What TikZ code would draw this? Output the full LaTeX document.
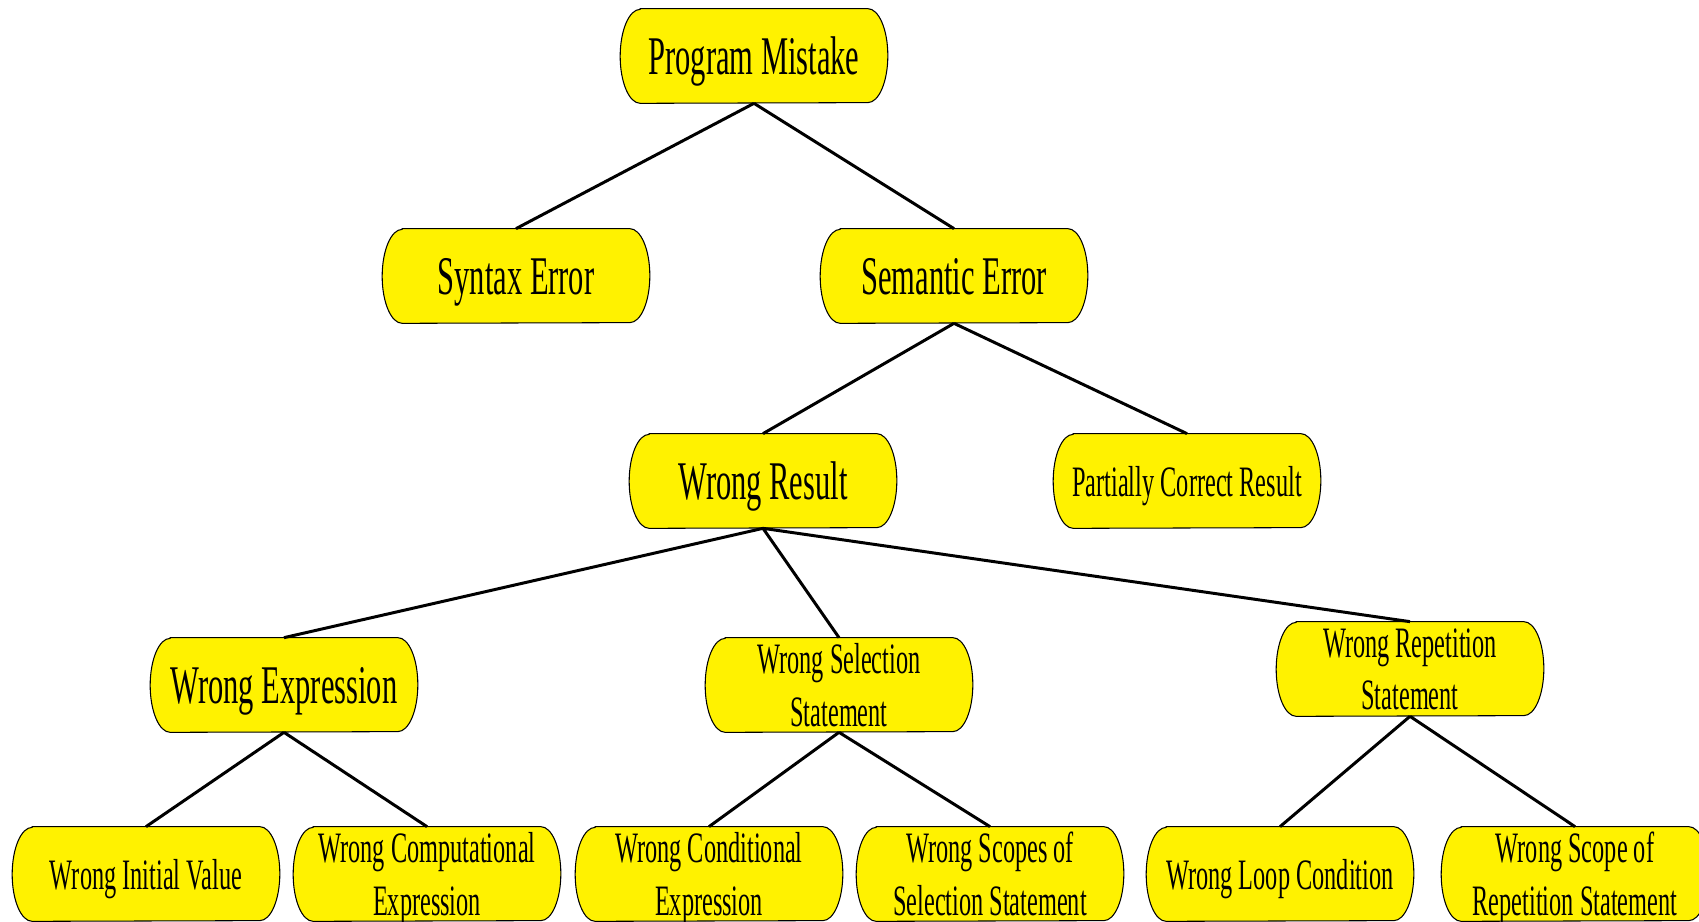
\documentclass[tikz,border=0pt]{standalone}
\usepackage{fontspec}
\newfontfamily\condfont[FakeStretch=0.56]{Liberation Serif}
\usepackage{tikz}
\usetikzlibrary{backgrounds,calc}

\begin{document}
\begin{tikzpicture}[x=0.02cm,y=0.02cm,
box/.style={rectangle,minimum width=5.34cm,minimum height=1.88cm,inner sep=0pt,text depth=0pt,align=center,font={\condfont\fontsize{24.7}{30}\selectfont}},
big/.style={font={\condfont\fontsize{31}{36}\selectfont}},
link/.style={line width=1.7pt}]
\useasboundingbox(0,0)rectangle(1699,922);
\node[box,big](pm)at(754,866){Program Mistake};
\node[box,big](syn)at(516,646){Syntax Error};
\node[box,big](sem)at(954,646){Semantic Error};
\node[box,big](wres)at(763,441){Wrong Result};
\node[box](pcr)at(1187,441){Partially Correct Result};
\node[box,big](wexp)at(284,237){Wrong Expression};
\node[box](wsel)at(839,237){Wrong Selection\\Statement};
\node[box](wrep)at(1410,253){Wrong Repetition\\Statement};
\node[box](wiv)at(146,48){Wrong Initial Value};
\node[box](wce)at(427,48){Wrong Computational\\Expression};
\node[box](wcond)at(709,48){Wrong Conditional\\Expression};
\node[box](wsco)at(990,48){Wrong Scopes of\\Selection Statement};
\node[box](wloop)at(1280,48){Wrong Loop Condition};
\node[box](wsrep)at(1575,48){Wrong Scope of\\Repetition Statement};
\draw[link](pm.south)--(syn.north)(pm.south)--(sem.north)
(sem.south)--(wres.north)(sem.south)--(pcr.north);
\draw[link](wres.south)--(wexp.north)(wres.south)--(wsel.north)(wres.south)--(wrep.north);
\draw[link](wexp.south)--(wiv.north)(wexp.south)--(wce.north)
(wsel.south)--(wcond.north)(wsel.south)--(wsco.north)
(wrep.south)--(wloop.north)(wrep.south)--(wsrep.north);
\begin{scope}[on background layer]
\foreach \n in {pm,syn,sem,wres,pcr,wexp,wsel,wrep,wiv,wce,wcond,wsco,wloop,wsrep}
\draw[line width=0.6pt,fill=yellow]($(\n.north west)+(0.4cm,0)$)--($(\n.north east)+(-0.4cm,0)$)
arc[start angle=90,end angle=-90,x radius=0.4cm,y radius=0.94cm]
--($(\n.south west)+(0.4cm,0)$)
arc[start angle=270,end angle=90,x radius=0.4cm,y radius=0.94cm]--cycle;
\end{scope}
\end{tikzpicture}
\end{document}
